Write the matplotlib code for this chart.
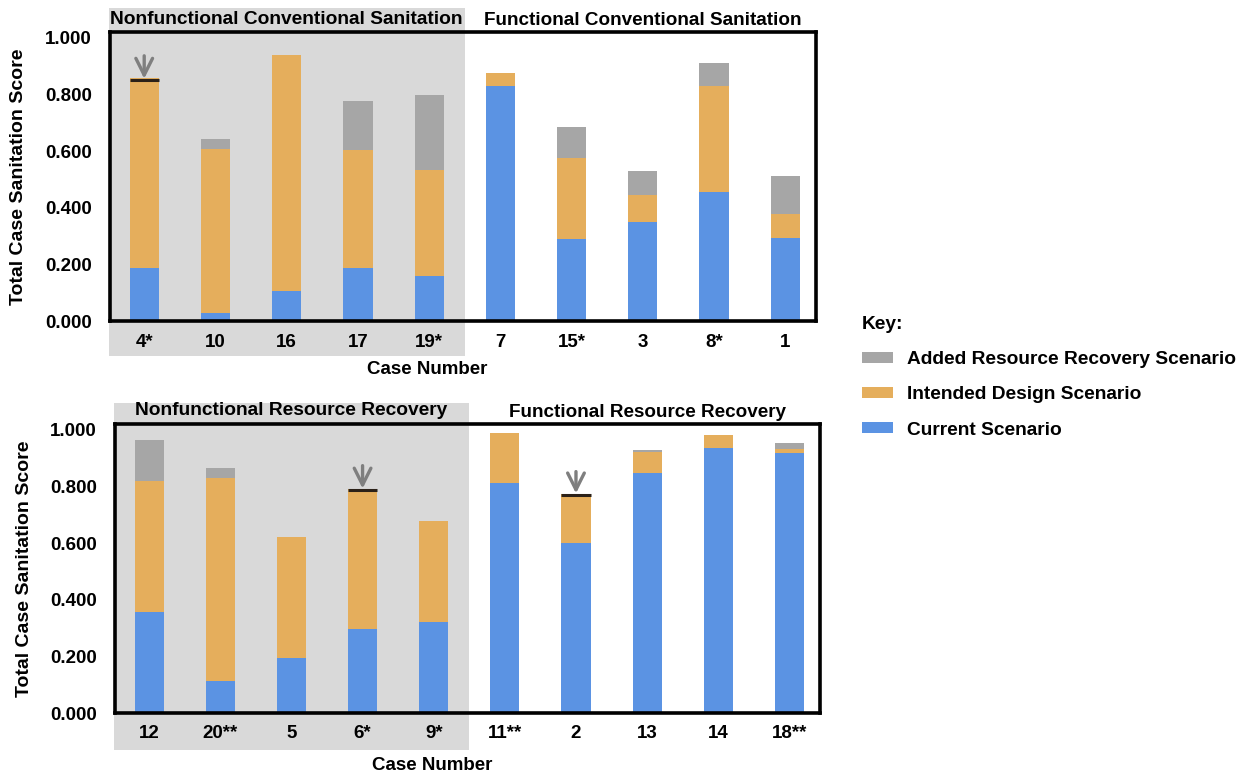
import numpy as np
from matplotlib import pyplot as plt
from matplotlib import transforms
from matplotlib.patches import Rectangle


# Top panel: conventional sanitation
top_cases = ['4*', '10', '16', '17', '19*', '7', '15*', '3', '8*', '1']
top_current = [0.188, 0.028, 0.106, 0.188, 0.160, 0.830, 0.291, 0.351, 0.454, 0.294]
top_intended = [0.668, 0.578, 0.834, 0.415, 0.372, 0.046, 0.283, 0.092, 0.376, 0.085]
top_added = [0.000, 0.036, 0.000, 0.174, 0.266, 0.000, 0.110, 0.085, 0.081, 0.132]
top_groups = ['Nonfunctional Conventional Sanitation', 'Functional Conventional Sanitation']
top_marks = {0: (0.850, 0.936)}   # bar index: (marked level, arrow tail)

# Bottom panel: resource recovery
bot_cases = ['12', '20**', '5', '6*', '9*', '11**', '2', '13', '14', '18**']
bot_current = [0.357, 0.113, 0.194, 0.297, 0.320, 0.813, 0.600, 0.848, 0.936, 0.919]
bot_intended = [0.463, 0.717, 0.428, 0.493, 0.358, 0.177, 0.172, 0.074, 0.046, 0.014]
bot_added = [0.145, 0.036, 0.000, 0.000, 0.000, 0.000, 0.000, 0.007, 0.000, 0.021]
bot_groups = ['Nonfunctional Resource Recovery', 'Functional Resource Recovery']
bot_marks = {3: (0.787, 0.873), 6: (0.770, 0.852)}

series_names = ['Current Scenario', 'Intended Design Scenario',
                'Added Resource Recovery Scenario']
yticks = [0.0, 0.2, 0.4, 0.6, 0.8, 1.0]

BLUE = '#5B93E3'
ORANGE = '#E5AE5C'
GREY = '#A6A6A6'
SHADE = '#D9D9D9'

plt.rcParams['font.family'] = ['Liberation Sans', 'DejaVu Sans']
plt.rcParams['font.weight'] = 'bold'


def draw_panel(ax, cases, current, intended, added, groups, marks,
               shade_top, shade_bottom, xlabel_y):
    x = np.arange(len(cases))
    current = np.array(current)
    intended = np.array(intended)
    added = np.array(added)
    w = 0.41

    ax.set_facecolor('none')
    ax.set_xlim(-0.48, 9.43)
    ax.set_ylim(0, 1.02)

    # grey background behind the nonfunctional cases
    trans = transforms.blended_transform_factory(ax.transData, ax.transAxes)
    ax.add_patch(Rectangle((-0.49, shade_bottom), 4.99, shade_top - shade_bottom,
                           transform=trans, facecolor=SHADE, edgecolor='none',
                           clip_on=False, zorder=0))

    b1 = ax.bar(x, current, w, color=BLUE, zorder=2)
    b2 = ax.bar(x, intended, w, bottom=current, color=ORANGE, zorder=2)
    b3 = ax.bar(x, added, w, bottom=current + intended, color=GREY, zorder=2)

    # marked levels with arrows
    for i, (level, tail) in marks.items():
        ax.plot([i - w / 2, i + w / 2], [level, level], color='#2b2118', lw=2.2,
                zorder=3, solid_capstyle='butt')
        ax.annotate('', xy=(i, level + 0.005), xytext=(i, tail),
                    arrowprops=dict(arrowstyle='->', color='#7F7F7F', lw=2.4,
                                    mutation_scale=30, shrinkA=0, shrinkB=0),
                    zorder=3)

    ax.set_xticks(x)
    ax.set_xticklabels(cases, fontsize=13.5, fontweight='bold')
    ax.set_yticks(yticks)
    ax.set_yticklabels([f'{v:.3f}' for v in yticks], fontsize=13.5, fontweight='bold')
    ax.tick_params(axis='both', length=0)
    ax.tick_params(axis='x', pad=9)
    ax.tick_params(axis='y', pad=13)
    for s in ax.spines.values():
        s.set_linewidth(2.6)
        s.set_color('black')
        s.set_zorder(4)

    ax.set_xlabel('Case Number', fontsize=13.5, fontweight='bold')
    ax.xaxis.set_label_coords(0.45, xlabel_y)
    ax.set_ylabel('Total Case Sanitation Score', fontsize=14, fontweight='bold')
    ax.yaxis.set_label_coords(-0.117, 0.5)

    ax.text(2.0, 1.045, groups[0], transform=trans, ha='center', va='center',
            fontsize=13.8, fontweight='bold')
    ax.text(7.0, 1.040, groups[1], transform=trans, ha='center', va='center',
            fontsize=13.6, fontweight='bold')
    return b1, b2, b3


def main():
    fig = plt.figure(figsize=(12.53, 7.75), dpi=100)
    ax1 = fig.add_axes([0.0878, 0.5858, 0.5634, 0.3729])
    ax2 = fig.add_axes([0.0918, 0.0800, 0.5626, 0.3729])

    bars = draw_panel(ax1, top_cases, top_current, top_intended, top_added,
                      top_groups, top_marks, 1.083, -0.121, -0.14)
    draw_panel(ax2, bot_cases, bot_current, bot_intended, bot_added,
               bot_groups, bot_marks, 1.073, -0.128, -0.152)

    handles = [bars[2], bars[1], bars[0]]
    labels = [series_names[2], series_names[1], series_names[0]]
    fig.legend(handles, labels, loc='upper left', bbox_to_anchor=(862 / 1253, 1 - 316 / 775),
               frameon=False, title='Key:', alignment='left',
               prop={'weight': 'bold', 'size': 13.8},
               title_fontproperties={'weight': 'bold', 'size': 13.8},
               handlelength=1.6, handleheight=0.5, handletextpad=0.75,
               labelspacing=0.95, borderpad=0, borderaxespad=0)

    fig.savefig('out.png', dpi=100)


if __name__ == '__main__':
    main()
